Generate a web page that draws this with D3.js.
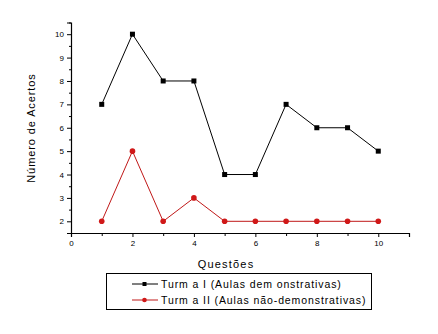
<!DOCTYPE html>
<html>
<head>
<meta charset="utf-8">
<script src="https://cdn.jsdelivr.net/npm/d3@7"></script>
<style>
  body { margin: 0; background: #fff; }
  text { font-family: "Liberation Sans", Arial, sans-serif; }
</style>
</head>
<body>
<div id="chart"></div>
<script>
// data
const questoes = [1, 2, 3, 4, 5, 6, 7, 8, 9, 10];
const turma1 = [7, 10, 8, 8, 4, 4, 7, 6, 6, 5];
const turma2 = [2, 5, 2, 3, 2, 2, 2, 2, 2, 2];
const xTicks = [0, 2, 4, 6, 8, 10];
const yTicks = [2, 3, 4, 5, 6, 7, 8, 9, 10];
const seriesNames = ["Turm a I (Aulas dem onstrativas)", "Turm a II (Aulas não-demonstrativas)"];

const width = 438, height = 334;

const svg = d3.select("#chart")
  .append("svg")
  .attr("width", width)
  .attr("height", height);

svg.append("rect")
  .attr("width", width)
  .attr("height", height)
  .attr("fill", "#fff");

const x = d3.scaleLinear().domain([0, 11]).range([71, 409]);
const y = d3.scaleLinear().domain([1.5, 10.5]).range([233, 22.5]);

// x axis, major + minor ticks
svg.append("g")
  .attr("transform", "translate(0,233)")
  .call(d3.axisBottom(x).tickValues(xTicks).tickSize(4).tickPadding(3).tickFormat(d3.format("d")));
svg.append("g")
  .attr("transform", "translate(0,233)")
  .call(d3.axisBottom(x).tickValues([1, 3, 5, 7, 9, 11]).tickSize(3).tickFormat(""))
  .select(".domain").remove();

// y axis, major + minor ticks
svg.append("g")
  .attr("transform", "translate(71,0)")
  .call(d3.axisLeft(y).tickValues(yTicks).tickSize(4).tickPadding(3).tickFormat(d3.format("d")));
svg.append("g")
  .attr("transform", "translate(71,0)")
  .call(d3.axisLeft(y).tickValues(d3.range(1.5, 10.6, 1)).tickSize(2).tickFormat(""))
  .select(".domain").remove();

svg.selectAll(".domain").attr("stroke", "#000").attr("stroke-width", 1.2);
svg.selectAll(".tick line").attr("stroke", "#000");
svg.selectAll(".tick text").attr("font-size", 8).attr("fill", "#000");

// axis titles
svg.append("text")
  .attr("x", 226).attr("y", 268)
  .attr("text-anchor", "middle")
  .attr("font-size", 11)
  .attr("letter-spacing", 1.2)
  .text("Questões");

svg.append("text")
  .attr("transform", "translate(35,128) rotate(-90)")
  .attr("text-anchor", "middle")
  .attr("font-size", 11)
  .attr("letter-spacing", 0.9)
  .text("Número de Acertos");

// series
const line = d3.line()
  .x((d, i) => x(questoes[i]))
  .y(d => y(d));

svg.append("path")
  .datum(turma1)
  .attr("fill", "none")
  .attr("stroke", "#000")
  .attr("stroke-width", 1)
  .attr("d", line);

svg.selectAll(".m1")
  .data(turma1)
  .enter()
  .append("rect")
  .attr("class", "m1")
  .attr("x", (d, i) => x(questoes[i]) - 2.5)
  .attr("y", d => y(d) - 2.5)
  .attr("width", 5)
  .attr("height", 5)
  .attr("fill", "#000");

svg.append("path")
  .datum(turma2)
  .attr("fill", "none")
  .attr("stroke", "#c01818")
  .attr("stroke-width", 1)
  .attr("d", line);

svg.selectAll(".m2")
  .data(turma2)
  .enter()
  .append("circle")
  .attr("class", "m2")
  .attr("cx", (d, i) => x(questoes[i]))
  .attr("cy", d => y(d))
  .attr("r", 2.8)
  .attr("fill", "#d01818");

// legend
const legend = svg.append("g");
legend.append("rect")
  .attr("x", 106.5).attr("y", 273.5)
  .attr("width", 265).attr("height", 36)
  .attr("fill", "#fff")
  .attr("stroke", "#000")
  .attr("stroke-width", 1);

const rows = [
  {name: seriesNames[0], color: "#000", shape: "square", yy: 284},
  {name: seriesNames[1], color: "#c01818", shape: "circle", yy: 300}
];
rows.forEach(r => {
  legend.append("line")
    .attr("x1", 132).attr("x2", 158)
    .attr("y1", r.yy).attr("y2", r.yy)
    .attr("stroke", r.color);
  if (r.shape === "square") {
    legend.append("rect")
      .attr("x", 142.5).attr("y", r.yy - 2)
      .attr("width", 4).attr("height", 4)
      .attr("fill", "#000");
  } else {
    legend.append("circle")
      .attr("cx", 144.5).attr("cy", r.yy)
      .attr("r", 2.3)
      .attr("fill", "#d01818");
  }
  legend.append("text")
    .attr("x", 161).attr("y", r.yy + 4)
    .attr("font-size", 10.5)
    .attr("letter-spacing", 0.9)
    .text(r.name);
});
</script>
</body>
</html>
